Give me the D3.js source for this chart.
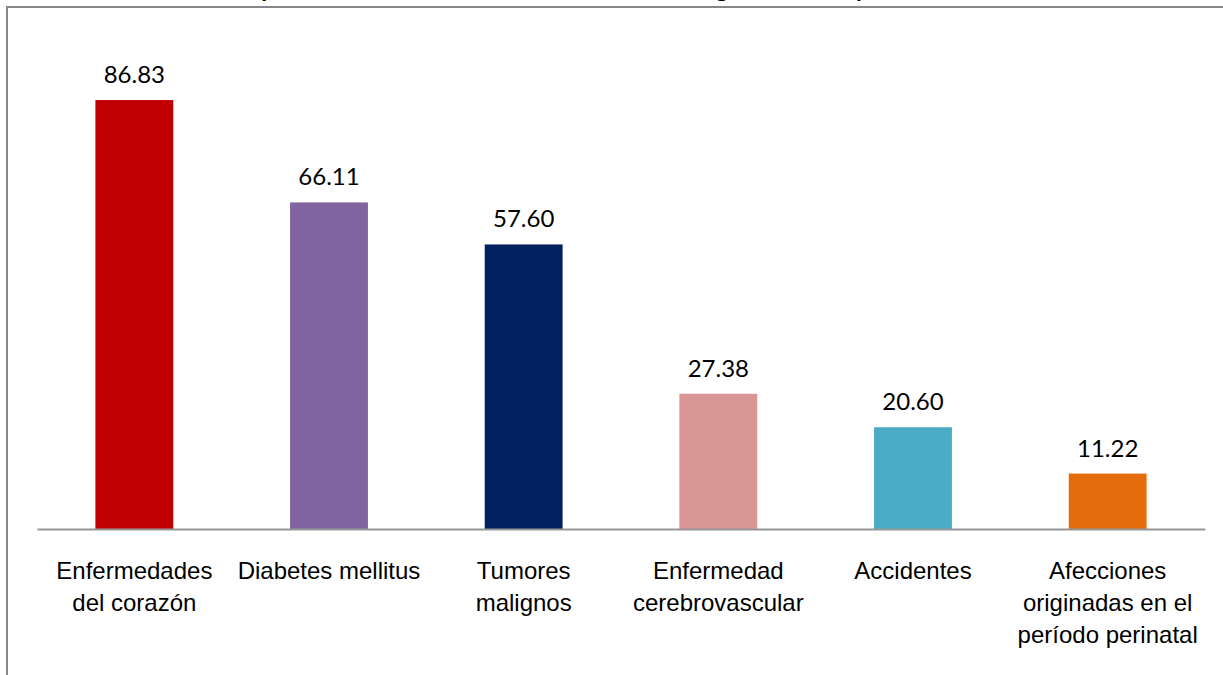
<!DOCTYPE html>
<html>
<head>
<meta charset="utf-8">
<script src="https://cdn.jsdelivr.net/npm/d3@7"></script>
<style>
  body { margin: 0; background: #fff; }
  svg { display: block; font-family: Lato, "Open Sans", sans-serif; }
</style>
</head>
<body>
<script>
// data
const categories = [
  ["Enfermedades", "del corazón"],
  ["Diabetes mellitus"],
  ["Tumores", "malignos"],
  ["Enfermedad", "cerebrovascular"],
  ["Accidentes"],
  ["Afecciones", "originadas en el", "período perinatal"]
];
const values = [86.83, 66.11, 57.60, 27.38, 20.60, 11.22];
const colors = ["#C00000", "#8064A2", "#002060", "#D99694", "#4BACC6", "#E46C0A"];
// title is cropped off in the source, only descenders remain
const titleText = "Principales causas de la mortalidad del año: tasa general total y anual";

const W = 1223, H = 675;

const svg = d3.select("body").append("svg")
    .attr("width", W)
    .attr("height", H);

const title = svg.append("text")
    .attr("x", 0)
    .attr("y", -3)
    .attr("font-weight", "bold")
    .attr("font-size", 24)
    .attr("fill", "#000")
    .text(titleText);
// line the first descender up with where it shows in the source
const pIdx = titleText.indexOf("p");
const tn = title.node();
const pMid = tn.getStartPositionOfChar(pIdx).x + tn.getExtentOfChar(pIdx).width / 2;
title.attr("x", 268 - pMid);

// chart frame (cropped on right/bottom)
svg.append("rect")
    .attr("x", 7).attr("y", 7)
    .attr("width", W + 20).attr("height", H + 20)
    .attr("fill", "none")
    .attr("stroke", "#878787")
    .attr("stroke-width", 2);

const x = d3.scaleBand()
    .domain(d3.range(categories.length))
    .range([37, 1205])
    .paddingInner(0.6)
    .paddingOuter(0.3);

const y = d3.scaleLinear()
    .domain([0, 100])
    .range([529, 35]);

svg.selectAll("rect.bar")
  .data(values)
  .join("rect")
    .attr("class", "bar")
    .attr("x", (d, i) => x(i))
    .attr("y", d => y(d))
    .attr("width", x.bandwidth())
    .attr("height", d => y(0) - y(d))
    .attr("fill", (d, i) => colors[i]);

// value labels
svg.selectAll("text.val")
  .data(values)
  .join("text")
    .attr("class", "val")
    .attr("x", (d, i) => x(i) + x.bandwidth() / 2)
    .attr("y", d => y(d) - 17)
    .attr("text-anchor", "middle")
    .attr("font-size", 24)
    .attr("fill", "#000")
    .text(d => d.toFixed(2));

// category axis
const axis = d3.axisBottom(x).tickSize(0).tickFormat("");
const g = svg.append("g")
    .attr("transform", `translate(0,${y(0)})`)
    .call(axis);
g.select(".domain").attr("stroke", "#969696").attr("stroke-width", 2);

g.selectAll(".tick").each(function(d) {
  const t = d3.select(this).append("text")
      .attr("text-anchor", "middle")
      .attr("fill", "#000")
      .attr("font-size", 24);
  categories[d].forEach((line, k) => {
    t.append("tspan")
        .attr("x", 0)
        .attr("y", 50 + k * 32)
        .text(line);
  });
});
</script>
</body>
</html>
